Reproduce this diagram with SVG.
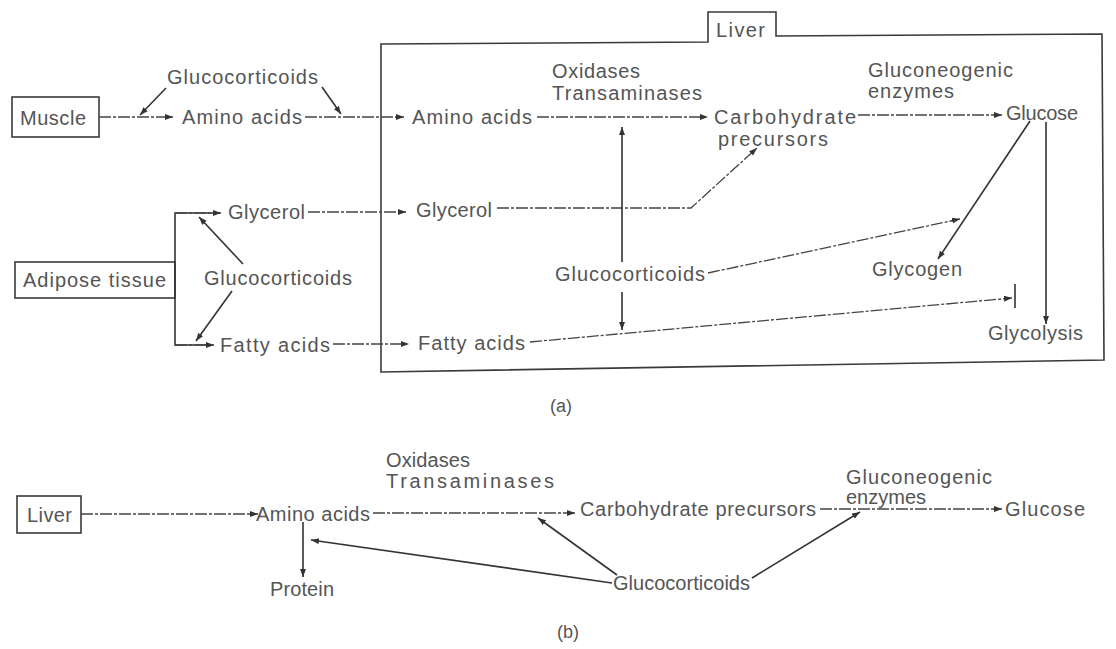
<svg xmlns="http://www.w3.org/2000/svg" width="1116" height="649" viewBox="0 0 1116 649">
<defs>
<marker id="ah" markerUnits="userSpaceOnUse" markerWidth="10" markerHeight="8" refX="8" refY="3" orient="auto">
<path d="M0,0 L8,3 L0,6 z" fill="#333"/>
</marker>
<style>
text{font-family:"Liberation Sans",Arial,sans-serif;font-size:20px;fill:#555;}
.lab{font-size:18px;}
.box{fill:none;stroke:#3a3a3a;stroke-width:1.6;}
.flow{fill:none;stroke:#444;stroke-width:1.3;stroke-dasharray:12 2 3 2;marker-end:url(#ah);}
.solid{fill:none;stroke:#333;stroke-width:1.6;marker-end:url(#ah);}
.plain{fill:none;stroke:#333;stroke-width:1.6;}
</style>
</defs>
<rect width="1116" height="649" fill="#fff"/>

<g id="liver-compartment">
<path class="box" d="M381,44 L708,42 L708,12 L776,12 L776,36 L1102,34 L1104,360 L381,372 Z"/>
<text x="716" y="37" textLength="49" lengthAdjust="spacing">Liver</text>
</g>

<g id="muscle"><rect class="box" x="12" y="97" width="87" height="40"/><text x="20" y="125" textLength="66" lengthAdjust="spacing">Muscle</text></g>
<g id="gc-top"><text x="167" y="84" textLength="151" lengthAdjust="spacing">Glucocorticoids</text></g>
<g id="amino-muscle"><text x="182" y="124" textLength="120" lengthAdjust="spacing">Amino acids</text></g>
<g id="amino-liver"><text x="412" y="124" textLength="120" lengthAdjust="spacing">Amino acids</text></g>
<g id="enz-a"><text x="552" y="78" textLength="88" lengthAdjust="spacing">Oxidases</text><text x="552" y="100" textLength="150" lengthAdjust="spacing">Transaminases</text></g>
<g id="carb-a"><text x="714" y="124" textLength="142" lengthAdjust="spacing">Carbohydrate</text><text x="718" y="146" textLength="110" lengthAdjust="spacing">precursors</text></g>
<g id="gng-a"><text x="868" y="77" textLength="145" lengthAdjust="spacing">Gluconeogenic</text><text x="868" y="98" textLength="86" lengthAdjust="spacing">enzymes</text></g>
<g id="glucose-a"><text x="1006" y="120" textLength="72" lengthAdjust="spacing">Glucose</text></g>
<g id="adipose"><rect class="box" x="15" y="262" width="160" height="36"/><text x="23" y="287" textLength="143" lengthAdjust="spacing">Adipose tissue</text></g>
<g id="glycerol-adipose"><text x="228" y="219" textLength="77" lengthAdjust="spacing">Glycerol</text></g>
<g id="gc-left"><text x="204" y="285" textLength="148" lengthAdjust="spacing">Glucocorticoids</text></g>
<g id="fatty-adipose"><text x="220" y="352" textLength="110" lengthAdjust="spacing">Fatty acids</text></g>
<g id="glycerol-liver"><text x="416" y="217" textLength="76" lengthAdjust="spacing">Glycerol</text></g>
<g id="gc-liver"><text x="555" y="281" textLength="150" lengthAdjust="spacing">Glucocorticoids</text></g>
<g id="fatty-liver"><text x="418" y="350" textLength="107" lengthAdjust="spacing">Fatty acids</text></g>
<g id="glycogen"><text x="872" y="276" textLength="90" lengthAdjust="spacing">Glycogen</text></g>
<g id="glycolysis"><text x="988" y="340" textLength="95" lengthAdjust="spacing">Glycolysis</text></g>
<g id="label-a"><text class="lab" x="550" y="412">(a)</text></g>

<g id="liver-b"><rect class="box" x="17" y="496" width="64" height="37"/><text x="27" y="522" textLength="45" lengthAdjust="spacing">Liver</text></g>
<g id="amino-b"><text x="256" y="521" textLength="114" lengthAdjust="spacing">Amino acids</text></g>
<g id="enz-b"><text x="386" y="467" textLength="84" lengthAdjust="spacing">Oxidases</text><text x="386" y="488" textLength="168" lengthAdjust="spacing">Transaminases</text></g>
<g id="carb-b"><text x="580" y="516" textLength="236" lengthAdjust="spacing">Carbohydrate precursors</text></g>
<g id="gng-b"><text x="846" y="484" textLength="146" lengthAdjust="spacing">Gluconeogenic</text><text x="846" y="504" textLength="80" lengthAdjust="spacing">enzymes</text></g>
<g id="glucose-b"><text x="1005" y="516" textLength="80" lengthAdjust="spacing">Glucose</text></g>
<g id="protein"><text x="270" y="596" textLength="64" lengthAdjust="spacing">Protein</text></g>
<g id="gc-b"><text x="613" y="590" textLength="137" lengthAdjust="spacing">Glucocorticoids</text></g>
<g id="label-b"><text class="lab" x="557" y="638">(b)</text></g>

<g id="connectors">
<line class="flow" x1="99" y1="117" x2="173" y2="117"/>
<line class="solid" x1="166" y1="88" x2="140" y2="115"/>
<line class="flow" x1="305" y1="117" x2="404" y2="117"/>
<line class="solid" x1="322" y1="87" x2="341" y2="114"/>
<line class="flow" x1="537" y1="117" x2="708" y2="117"/>
<line class="flow" x1="858" y1="115" x2="1002" y2="115"/>
<line class="solid" x1="622" y1="262" x2="622" y2="127"/>
<line class="solid" x1="622" y1="292" x2="622" y2="330"/>
<polyline class="flow" points="497,208 691,208 757,148"/>
<line class="flow" x1="708" y1="273" x2="960" y2="219"/>
<line class="solid" x1="1030" y1="121" x2="938" y2="259"/>
<line class="solid" x1="1046" y1="122" x2="1046" y2="324"/>
<line class="flow" x1="530" y1="342" x2="1012" y2="298"/>
<line class="plain" x1="1015" y1="284" x2="1015" y2="308"/>
<polyline class="plain" points="220,213 175,213 175,345 213,345"/>
<line class="flow" x1="175" y1="213" x2="221" y2="213"/>
<line class="flow" x1="175" y1="345" x2="214" y2="345"/>
<line class="solid" x1="243" y1="264" x2="199" y2="217"/>
<line class="solid" x1="232" y1="291" x2="196" y2="341"/>
<line class="flow" x1="308" y1="212" x2="406" y2="212"/>
<line class="flow" x1="333" y1="344" x2="409" y2="344"/>

<line class="flow" x1="81" y1="514" x2="258" y2="514"/>
<line class="flow" x1="373" y1="513" x2="575" y2="513"/>
<line class="flow" x1="820" y1="509" x2="1002" y2="509"/>
<line class="solid" x1="303" y1="522" x2="303" y2="577"/>
<line class="solid" x1="612" y1="583" x2="311" y2="540"/>
<line class="solid" x1="617" y1="575" x2="538" y2="518"/>
<line class="solid" x1="752" y1="578" x2="860" y2="512"/>
</g>
</svg>
